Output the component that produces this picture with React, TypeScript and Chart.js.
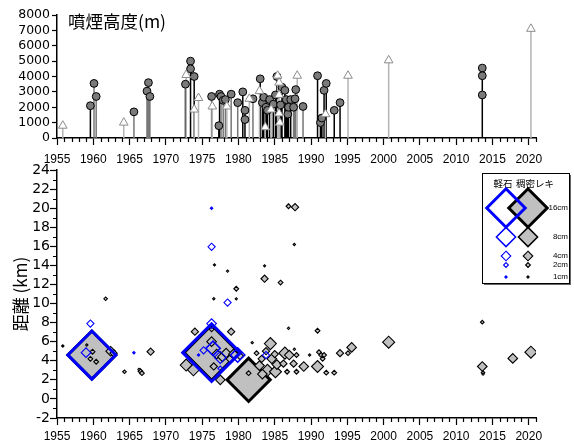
import React, { useEffect, useRef } from 'react';
import { Chart, registerables } from 'chart.js';

Chart.register(...registerables);

// ---------- axis ticks ----------
const xTickYears = [1955, 1960, 1965, 1970, 1975, 1980, 1985, 1990, 1995, 2000, 2005, 2010, 2015, 2020];
const heightTicks = [0, 1000, 2000, 3000, 4000, 5000, 6000, 7000, 8000];
const distanceTicks = [-2, 0, 2, 4, 6, 8, 10, 12, 14, 16, 18, 20, 22, 24];

// ---------- top panel: plume height (m) ----------
// kind: A = circle (black stem), B = circle (gray stem), C = triangle (light stem)
const plumeYears = [
  1955.8, 1959.6, 1960.1, 1960.4, 1964.2, 1965.6, 1967.4, 1967.6, 1967.8, 1972.7,
  1972.8, 1973.4, 1973.4, 1973.9, 1973.9, 1974.5, 1976.3, 1976.4, 1977.3, 1977.4,
  1977.6, 1977.9, 1978.2, 1978.4, 1979.0, 1979.9, 1980.6, 1980.9, 1980.9, 1981.5,
  1982.0, 1982.9, 1983.0, 1983.3, 1983.5, 1983.7, 1983.8, 1984.0, 1984.3, 1984.5,
  1984.8, 1985.1, 1985.3, 1985.4, 1985.6, 1985.6, 1985.6, 1985.7, 1985.8, 1986.0,
  1986.4, 1986.6, 1986.8, 1986.9, 1987.2, 1987.6, 1987.8, 1987.9, 1988.1, 1988.9,
  1990.9, 1991.3, 1991.5, 1991.8, 1992.0, 1992.1, 1993.2, 1994.0, 1995.1, 2000.7,
  2013.6, 2013.6, 2013.6, 2020.3,
];
const plumeHeights = [
  800, 2100, 3550, 2700, 1000, 1700, 3050, 3600, 2700, 3500,
  4100, 5000, 4500, 4000, 1850, 2600, 2700, 2050, 800, 2850,
  2700, 2450, 2500, 2050, 2850, 2300, 3000, 1800, 1200, 2550,
  2550, 3050, 3850, 2300, 2650, 700, 2000, 1800, 2500, 1850,
  2200, 2800, 4000, 4050, 3600, 2800, 1600, 1000, 2150, 3300,
  3100, 2500, 1550, 2000, 2500, 2000, 2550, 3150, 4050, 2050,
  4050, 1000, 1300, 3100, 1550, 3550, 1800, 2300, 4050, 5050,
  4550, 4050, 2800, 7100,
];
const plumeKinds = [
  'C', 'A', 'B', 'B', 'C', 'B', 'B', 'B', 'B', 'A',
  'C', 'A', 'A', 'A', 'C', 'C', 'B', 'C', 'A', 'A',
  'B', 'B', 'B', 'C', 'B', 'B', 'A', 'A', 'A', 'C',
  'B', 'C', 'A', 'A', 'A', 'C', 'A', 'A', 'A', 'C',
  'A', 'A', 'A', 'C', 'C', 'C', 'C', 'C', 'A', 'A',
  'A', 'A', 'A', 'A', 'A', 'B', 'B', 'B', 'C', 'B',
  'A', 'A', 'A', 'A', 'C', 'A', 'A', 'A', 'C', 'C',
  'A', 'A', 'A', 'C',
];

// ---------- bottom panel: distance (km) and clast size (cm) ----------
// 稠密レキ (dense lithics)
const lithicYears = [
  1955.8, 1959.1, 1959.8, 1959.9, 1959.6, 1960.4, 1961.7, 1962.4, 1962.8, 1964.3,
  1966.3, 1966.5, 1966.7, 1967.9, 1972.8, 1973.8, 1974.0, 1976.3, 1976.3, 1976.3,
  1976.6, 1976.7, 1976.6, 1977.0, 1977.5, 1977.8, 1978.3, 1978.5, 1978.8, 1979.0,
  1979.3, 1979.7, 1979.7, 1980.2, 1981.4, 1981.4, 1981.9, 1982.5, 1982.9, 1983.2,
  1983.6, 1983.6, 1983.3, 1983.8, 1984.0, 1984.4, 1984.6, 1985.1, 1985.0, 1985.3,
  1985.8, 1986.2, 1986.4, 1986.7, 1986.9, 1986.9, 1987.0, 1987.6, 1987.7, 1987.7,
  1987.8, 1988.0, 1988.0, 1989.0, 1989.8, 1990.9, 1990.9, 1991.1, 1991.4, 1991.6,
  1991.8, 1992.1, 1993.2, 1994.0, 1995.1, 1995.6, 2000.7, 2013.6, 2013.6, 2013.7,
  2013.7, 2017.8, 2020.3,
];
const lithicKm = [
  5.55, 5.65, 4.6, 4.95, 4.2, 3.9, 10.5, 5.0, 4.8, 2.85,
  3.1, 2.9, 2.7, 4.95, 3.55, 3.05, 7.05, 4.85, 7.3, 6.0,
  10.5, 14.05, 3.4, 4.7, 2.0, 4.4, 4.8, 13.4, 4.2, 7.05,
  4.7, 11.55, 10.5, 4.5, 2.0, 2.7, 5.9, 4.8, 3.5, 4.2,
  13.95, 12.6, 2.6, 5.0, 3.0, 5.8, 4.2, 2.85, 4.7, 3.6,
  12.2, 3.7, 4.8, 2.85, 7.4, 20.2, 4.6, 3.7, 5.2, 16.2,
  20.1, 4.6, 2.85, 3.4, 4.6, 7.15, 3.4, 4.9, 4.6, 4.2,
  4.6, 2.75, 2.75, 4.8, 4.8, 5.4, 5.95, 8.05, 3.4, 2.75,
  2.6, 4.25, 4.9,
];
const lithicCm = [
  1, 1, 20, 2, 2, 2, 1.5, 4, 3, 1.5,
  1, 2, 2, 3, 5, 5, 3, 23, 2, 4,
  1, 0.6, 3, 4, 4, 4, 4, 1, 3, 3,
  4, 2, 0.7, 3, 18, 2, 1, 2, 4, 3,
  0.6, 3, 4, 3, 5, 5, 4, 5, 3, 4,
  2, 3, 5, 2, 1, 2, 4, 3, 1, 1,
  3, 2, 2, 4, 1, 2, 5, 2, 2, 2,
  2, 2, 2, 3, 2, 4, 5, 1.5, 4, 1.5,
  1, 4, 5,
];
// 軽石 (pumice)
const pumiceYears = [
  1959.8, 1959.6, 1959.0, 1965.6, 1974.5, 1975.2, 1976.3, 1976.3, 1976.5, 1976.3,
  1976.3, 1977.5, 1977.5, 1978.5, 1979.9, 1983.8,
];
const pumiceKm = [
  4.6, 7.9, 4.85, 4.85, 4.6, 5.1, 4.85, 7.9, 5.3, 15.95,
  20.0, 4.35, 3.2, 10.1, 4.6, 4.6,
];
const pumiceCm = [
  20, 3, 4, 1, 1, 3, 24, 4, 6, 3,
  1, 5, 2, 3, 6, 3,
];

// legend
const legendSizesCm = [16, 8, 4, 2, 1];
const legendLabels = ['16cm', '8cm', '4cm', '2cm', '1cm'];
const legendHeaders = ['軽石', '稠密レキ'];

// ---------- styling helpers ----------
const BLUE = '#0000ff';
const GRAY_FILL = '#c0c0c0';
const radiusFor = (cm: number) => Math.max(1.1, 1.2 * cm);
const borderFor = (cm: number) => (cm >= 12 ? 3 : cm >= 6 ? 1.5 : 1.1);

const TICK_FONT = { family: 'Liberation Sans', size: 12 };

const minorTicksPlugin = {
  id: 'minorTicks',
  afterDraw(chart: any, _args: any, opts: any) {
    const { ctx } = chart;
    const xs = chart.scales.x;
    const ys = chart.scales.y;
    ctx.save();
    ctx.strokeStyle = '#000';
    ctx.lineWidth = 1.2;
    ctx.beginPath();
    for (let v = Math.ceil(xs.min); v <= xs.max; v++) {
      if (v % 5 === 0) continue;
      const px = Math.round(xs.getPixelForValue(v)) + 0.5;
      ctx.moveTo(px, xs.top);
      ctx.lineTo(px, xs.top + 4);
    }
    if (opts && opts.yMinor) {
      for (let v = Math.ceil(ys.min); v <= ys.max; v++) {
        if (v % 2 === 0) continue;
        const py = Math.round(ys.getPixelForValue(v)) + 0.5;
        ctx.moveTo(ys.right, py);
        ctx.lineTo(ys.right - 4, py);
      }
    }
    ctx.stroke();
    ctx.restore();
  },
};

const titlePlugin = {
  id: 'panelTitle',
  afterDraw(chart: any, _args: any, opts: any) {
    if (!opts || !opts.text) return;
    const { ctx, chartArea } = chart;
    ctx.save();
    ctx.fillStyle = '#000';
    ctx.font = '17.5px "Noto Sans CJK JP"';
    ctx.textBaseline = 'middle';
    ctx.textAlign = 'left';
    ctx.fillText(opts.text, chartArea.left + 11, chartArea.top + 6);
    ctx.restore();
  },
};

function diamond(ctx: CanvasRenderingContext2D, x: number, y: number, r: number) {
  ctx.beginPath();
  ctx.moveTo(x, y - r);
  ctx.lineTo(x + r, y);
  ctx.lineTo(x, y + r);
  ctx.lineTo(x - r, y);
  ctx.closePath();
}

const sizeLegendPlugin = {
  id: 'sizeLegend',
  afterDraw(chart: any) {
    const { ctx, chartArea } = chart;
    const x0 = chartArea.right - 54;
    const y0 = chartArea.top + 3;
    const w = 87;
    const h = 110;
    ctx.save();
    ctx.fillStyle = '#666';
    ctx.fillRect(x0 + 2, y0 + 2, w, h);
    ctx.fillStyle = '#fff';
    ctx.fillRect(x0, y0, w, h);
    ctx.strokeStyle = '#000';
    ctx.lineWidth = 1;
    ctx.strokeRect(x0 + 0.5, y0 + 0.5, w, h);

    ctx.fillStyle = '#000';
    ctx.font = '9.5px "Noto Sans CJK JP"';
    ctx.textBaseline = 'middle';
    ctx.textAlign = 'center';
    ctx.fillText(legendHeaders[0], x0 + 21, y0 + 10);
    ctx.fillText(legendHeaders[1], x0 + 53, y0 + 10);

    const rowsY = [35, 64, 83, 92, 104];
    const bx = x0 + 24;
    const gx = x0 + 46;
    legendSizesCm.forEach((cm, i) => {
      const y = y0 + rowsY[i];
      const r = radiusFor(cm);
      // lithic (gray)
      diamond(ctx, gx, y, r);
      ctx.fillStyle = GRAY_FILL;
      ctx.fill();
      ctx.lineWidth = borderFor(cm);
      ctx.strokeStyle = '#000';
      ctx.stroke();
      // pumice (blue)
      diamond(ctx, bx, y, r);
      if (cm <= 1) {
        ctx.fillStyle = BLUE;
        ctx.fill();
      }
      ctx.lineWidth = borderFor(cm);
      ctx.strokeStyle = BLUE;
      ctx.stroke();
      // label
      ctx.fillStyle = '#000';
      ctx.font = '8px "Liberation Sans"';
      ctx.textAlign = 'right';
      ctx.fillText(legendLabels[i], x0 + 86, y);
    });
    ctx.restore();
  },
};

function sortedIdx(sizes: number[]) {
  return sizes.map((_, i) => i).sort((a, b) => sizes[b] - sizes[a]);
}

export default function App() {
  const topRef = useRef<HTMLCanvasElement>(null);
  const botRef = useRef<HTMLCanvasElement>(null);

  useEffect(() => {
    const xScaleBase = (height: number, pad: number) => ({
      type: 'linear' as const,
      min: 1955,
      max: 2021,
      afterBuildTicks: (s: any) => {
        s.ticks = xTickYears.map((v) => ({ value: v }));
      },
      afterFit: (s: any) => {
        s.height = height;
      },
      ticks: {
        color: '#000',
        font: TICK_FONT,
        padding: pad,
        maxRotation: 0,
        autoSkip: false,
        callback: (v: any) => String(v),
      },
      grid: {
        display: true,
        drawOnChartArea: false,
        drawTicks: true,
        tickLength: 7,
        tickWidth: 1.2,
        tickColor: '#000',
      },
      border: { display: true, color: '#000', width: 1.5 },
    });

    // ----- top chart -----
    const stemColors: Record<string, string> = { A: '#000000', B: '#777777', C: '#b4b4b4' };
    const stemSets = ['C', 'B', 'A'].map((k) => ({
      data: plumeYears.flatMap((yr, i) =>
        plumeKinds[i] === k
          ? [
              { x: yr, y: 0 },
              { x: yr, y: plumeHeights[i] },
              { x: yr, y: null },
            ]
          : []
      ),
      showLine: true,
      spanGaps: false,
      borderColor: stemColors[k],
      borderWidth: 1.5,
      pointRadius: 0,
      order: 3,
    }));
    const circleData = plumeYears
      .map((yr, i) => ({ x: yr, y: plumeHeights[i], k: plumeKinds[i] }))
      .filter((d) => d.k !== 'C');
    const triData = plumeYears
      .map((yr, i) => ({ x: yr, y: plumeHeights[i], k: plumeKinds[i] }))
      .filter((d) => d.k === 'C');

    const top = new Chart(topRef.current!, {
      type: 'scatter',
      data: {
        datasets: [
          ...stemSets,
          {
            data: circleData,
            pointStyle: 'circle',
            pointRadius: 3.9,
            backgroundColor: '#7a7a7a',
            borderColor: '#000',
            borderWidth: 1,
            order: 2,
          },
          {
            data: triData,
            pointStyle: 'triangle',
            pointRadius: 5,
            backgroundColor: '#ffffff',
            borderColor: '#8c8c8c',
            borderWidth: 1,
            order: 1,
          },
        ] as any,
      },
      options: {
        animation: false,
        responsive: false,
        events: [],
        layout: { autoPadding: false, padding: { top: 15, right: 38, left: 0, bottom: 0 } },
        plugins: {
          legend: { display: false },
          tooltip: { enabled: false },
          minorTicks: { yMinor: false },
          panelTitle: { text: '噴煙高度(m)' },
        } as any,
        scales: {
          x: xScaleBase(32, 7) as any,
          y: {
            type: 'linear',
            min: 0,
            max: 8000,
            afterBuildTicks: (s: any) => {
              s.ticks = heightTicks.map((v) => ({ value: v }));
            },
            afterFit: (s: any) => {
              s.width = 57;
            },
            ticks: {
              color: '#000',
              font: { family: 'DejaVu Sans', size: 12.5 },
              padding: 2,
              autoSkip: false,
              callback: (v: any) => String(v),
            },
            grid: {
              display: true,
              drawOnChartArea: false,
              drawTicks: true,
              tickLength: 5,
              tickWidth: 1.2,
              tickColor: '#000',
            },
            border: { display: true, color: '#000', width: 1.5 },
          } as any,
        },
      },
      plugins: [minorTicksPlugin, titlePlugin],
    });

    // ----- bottom chart -----
    const li = sortedIdx(lithicCm);
    const pi = sortedIdx(pumiceCm);
    const lithicData = li.map((i) => ({ x: lithicYears[i], y: lithicKm[i] }));
    const pumiceData = pi.map((i) => ({ x: pumiceYears[i], y: pumiceKm[i] }));

    const bot = new Chart(botRef.current!, {
      type: 'scatter',
      data: {
        datasets: [
          {
            data: pumiceData,
            pointStyle: 'rectRot',
            pointRadius: pi.map((i) => radiusFor(pumiceCm[i])),
            borderWidth: pi.map((i) => borderFor(pumiceCm[i])),
            borderColor: BLUE,
            backgroundColor: pi.map((i) => (pumiceCm[i] <= 1 ? BLUE : 'rgba(0,0,0,0)')),
            order: 0,
          },
          {
            data: lithicData,
            pointStyle: 'rectRot',
            pointRadius: li.map((i) => radiusFor(lithicCm[i])),
            borderWidth: li.map((i) => borderFor(lithicCm[i])),
            borderColor: '#000',
            backgroundColor: GRAY_FILL,
            order: 1,
          },
        ] as any,
      },
      options: {
        animation: false,
        responsive: false,
        events: [],
        layout: { autoPadding: false, padding: { top: 15, right: 38, left: 0, bottom: 0 } },
        plugins: {
          legend: { display: false },
          tooltip: { enabled: false },
          minorTicks: { yMinor: true },
        } as any,
        scales: {
          x: xScaleBase(29, 4) as any,
          y: {
            type: 'linear',
            min: -2,
            max: 24,
            afterBuildTicks: (s: any) => {
              s.ticks = distanceTicks.map((v) => ({ value: v }));
            },
            afterFit: (s: any) => {
              s.width = 57;
            },
            title: {
              display: true,
              text: '距離 (km)',
              color: '#000',
              font: { family: 'Noto Sans CJK JP', size: 17 },
              padding: { top: 10, bottom: 0 },
            },
            ticks: {
              color: '#000',
              font: { family: 'DejaVu Sans', size: 14 },
              padding: 0,
              autoSkip: false,
              callback: (v: any) => String(v),
            },
            grid: {
              display: true,
              drawOnChartArea: false,
              drawTicks: true,
              tickLength: 7,
              tickWidth: 1.2,
              tickColor: '#000',
            },
            border: { display: true, color: '#000', width: 1.5 },
          } as any,
        },
      },
      plugins: [minorTicksPlugin, sizeLegendPlugin],
    });

    return () => {
      top.destroy();
      bot.destroy();
    };
  }, []);

  return (
    <div style={{ position: 'absolute', left: 0, top: 0, width: 574, height: 447, background: '#fff' }}>
      <canvas
        ref={topRef}
        width={574}
        height={170}
        style={{ position: 'absolute', left: 0, top: 0, width: 574, height: 170 }}
      />
      <canvas
        ref={botRef}
        width={574}
        height={292}
        style={{ position: 'absolute', left: 0, top: 155, width: 574, height: 292 }}
      />
    </div>
  );
}
